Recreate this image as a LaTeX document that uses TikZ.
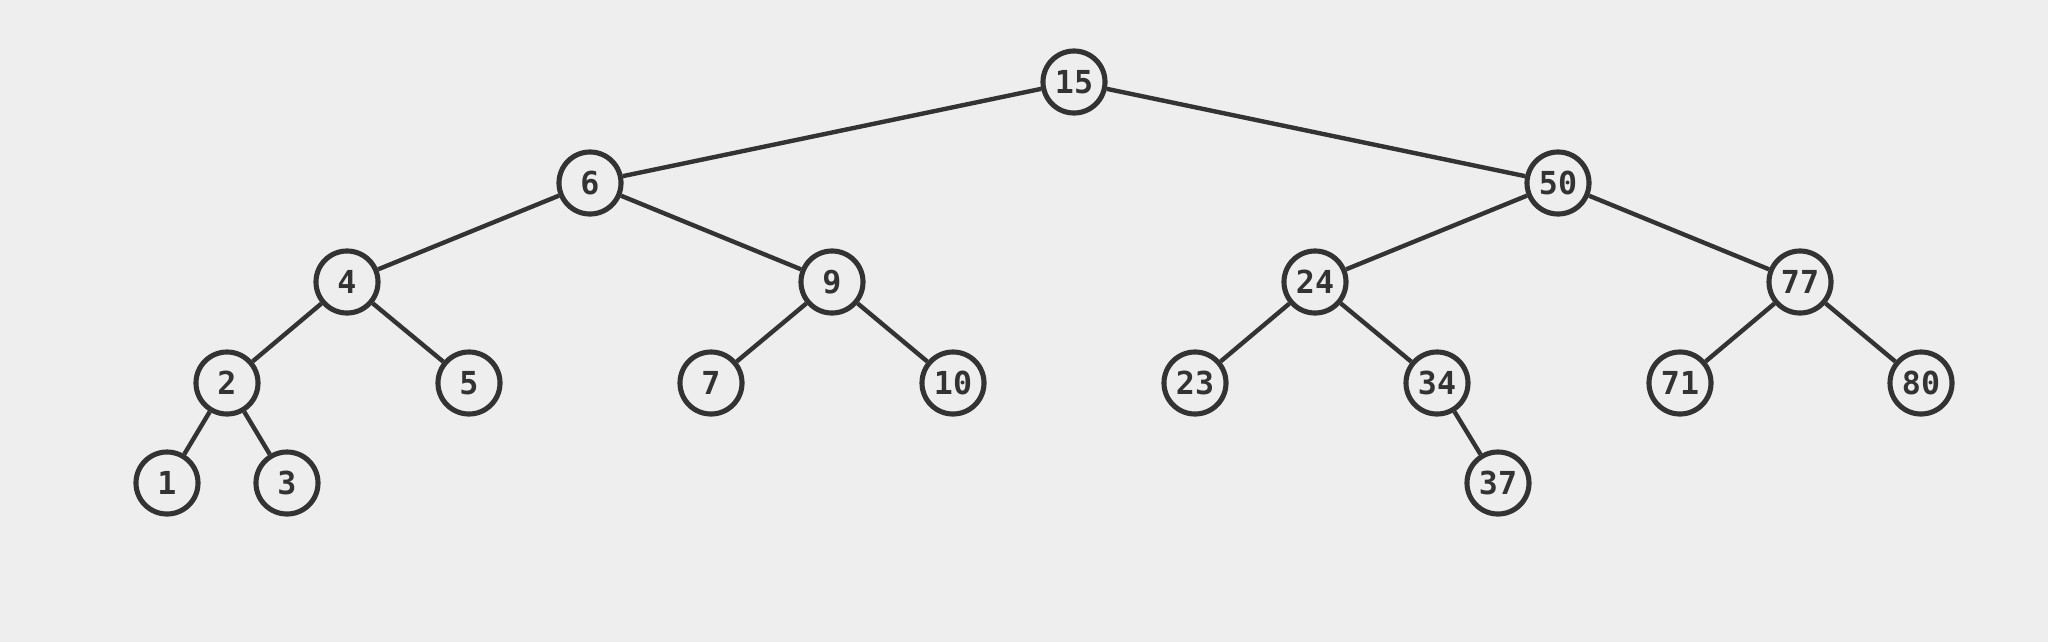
\documentclass[tikz,border=0pt]{standalone}
\usepackage{fontspec}
\newfontfamily\digitfont{DejaVu Sans Mono}
\definecolor{bgcol}{HTML}{EEEEEE}
\definecolor{inkcol}{HTML}{333333}
\begin{document}
\begin{tikzpicture}[x=0.01cm, y=-0.01cm,
    every node/.style={font=\digitfont\bfseries\fontsize{9}{10}\selectfont, text=inkcol},
    key/.style={circle, draw=inkcol, line width=1.45pt, fill=bgcol, minimum size=0.62cm, inner sep=0pt},
    link/.style={draw=inkcol, line width=1.25pt}]
    % Background
    \fill[bgcol] (0,0) rectangle (2048,642);
    \useasboundingbox (0,0) rectangle (2048,642);

    % Keys
    \node[key] (k15) at (1074,82)  {15};
    \node[key] (k6)  at (590,183)  {6};
    \node[key] (k50) at (1558,183) {50};
    \node[key] (k4)  at (347,282)  {4};
    \node[key] (k9)  at (832,282)  {9};
    \node[key] (k24) at (1315,282) {24};
    \node[key] (k77) at (1800,282) {77};
    \node[key] (k2)  at (227,383)  {2};
    \node[key] (k5)  at (469,383)  {5};
    \node[key] (k7)  at (711,383)  {7};
    \node[key] (k10) at (953,383)  {10};
    \node[key] (k23) at (1195,383) {23};
    \node[key] (k34) at (1437,383) {34};
    \node[key] (k71) at (1680,383) {71};
    \node[key] (k80) at (1921,383) {80};
    \node[key] (k1)  at (167,483)  {1};
    \node[key] (k3)  at (287,483)  {3};
    \node[key] (k37) at (1498,483) {37};

    % Links
    \foreach \a/\b in {k15/k6, k15/k50, k6/k4, k6/k9, k50/k24, k50/k77,
                       k4/k2, k4/k5, k9/k7, k9/k10, k24/k23, k24/k34,
                       k77/k71, k77/k80, k2/k1, k2/k3, k34/k37}
      \draw[link] (\a) -- (\b);
\end{tikzpicture}
\end{document}
